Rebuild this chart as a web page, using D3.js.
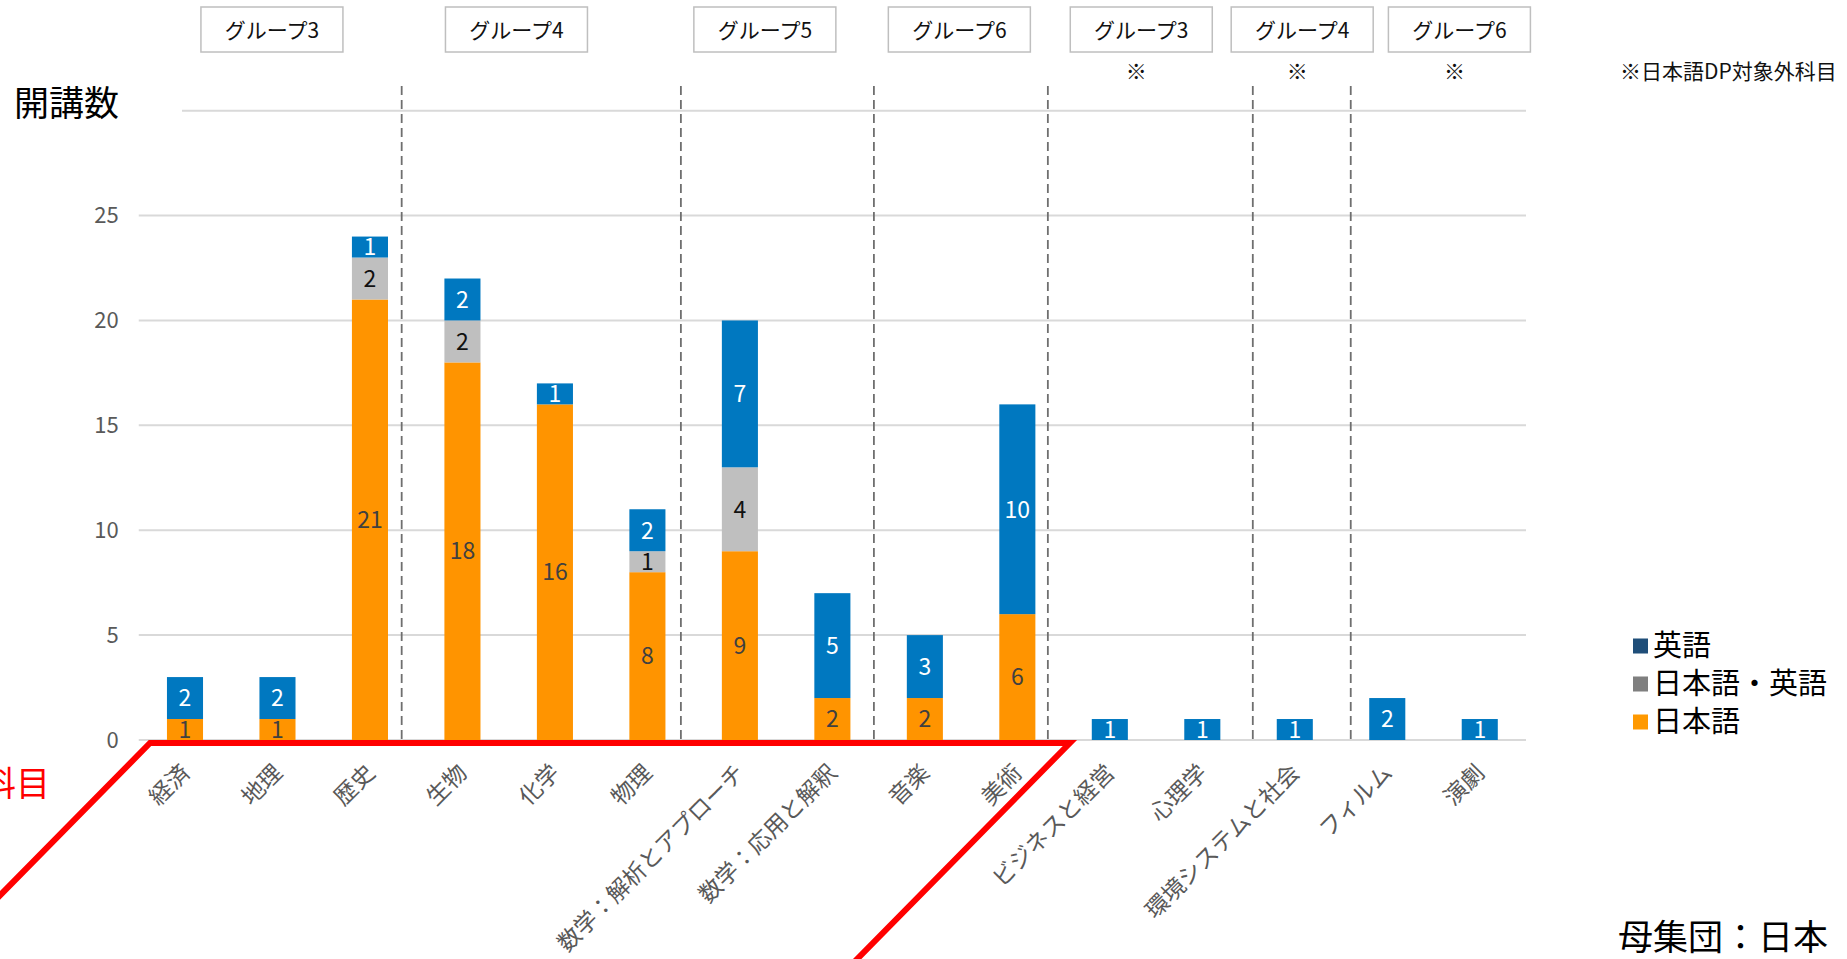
<!DOCTYPE html>
<html>
<head>
<meta charset="utf-8">
<script src="https://cdn.jsdelivr.net/npm/d3@7"></script>
<style>
  html, body { margin: 0; padding: 0; background: #fff; overflow: hidden; }
  text { font-family: "Noto Sans CJK JP", "Noto Sans", sans-serif; }
</style>
</head>
<body>
<div id="chart"></div>
<script>
// 科目ごとの開講数（言語別の積み上げ棒）

const categories = ['経済', '地理', '歴史', '生物', '化学', '物理',
  '数学：解析とアプローチ', '数学：応用と解釈', '音楽', '美術',
  'ビジネスと経営', '心理学', '環境システムと社会', 'フィルム', '演劇'];

const japanese = [1, 1, 21, 18, 16, 8, 9, 2, 2, 6, 0, 0, 0, 0, 0];
const bilingual = [0, 0, 2, 2, 0, 1, 4, 0, 0, 0, 0, 0, 0, 0, 0];
const english = [2, 2, 1, 2, 1, 2, 7, 5, 3, 10, 1, 1, 1, 2, 1];

const seriesNames = ['日本語', '日本語・英語', '英語'];
const yTicks = [0, 5, 10, 15, 20, 25];

const groupLabels = ['グループ3', 'グループ4', 'グループ5', 'グループ6', 'グループ3', 'グループ4', 'グループ6'];
const groupNotDP = [false, false, false, false, true, true, true];

// annotation placement, in category-index units (hand placed in the original slide)
const groupAt = [0.94, 3.584, 6.27, 8.373, 10.34, 12.08, 13.78];
const dividerAt = [2.343, 5.362, 7.449, 9.330, 11.546, 12.605];
const outlineAt = [-0.378, 9.568];

const barColor = { '日本語': '#ff9400', '日本語・英語': '#bfbfbf', '英語': '#0078c0' };
const legendColor = { '英語': '#1f4e79', '日本語・英語': '#7f7f7f', '日本語': '#ff9900' };
const labelColor = { '日本語': '#404040', '日本語・英語': '#111', '英語': '#fff' };

const W = 1847, H = 959;
const svg = d3.select('#chart').append('svg')
  .attr('width', W).attr('height', H)
  .attr('viewBox', `0 0 ${W} ${H}`);

const x = d3.scaleBand().domain(categories)
  .range([138.75, 1526]).paddingInner(0.61).paddingOuter(0.305);
const y = d3.scaleLinear().domain([0, 30]).range([740, 110.7]);
const bw = x.bandwidth();
const xi = d3.scaleLinear().domain([0, categories.length - 1])
  .range([x(categories[0]) + bw / 2, x(categories[categories.length - 1]) + bw / 2]);

// gridlines
svg.append('g').selectAll('line').data(yTicks.concat([30])).enter().append('line')
  .attr('x1', 138.75).attr('x2', 1526)
  .attr('y1', d => y(d)).attr('y2', d => y(d))
  .attr('stroke', '#d9d9d9').attr('stroke-width', 2);

// y axis labels
const yAxis = svg.append('g').attr('transform', `translate(${x.range()[0] - 20},0)`)
  .call(d3.axisLeft(y).tickValues(yTicks).tickSize(0).tickPadding(0));
yAxis.select('.domain').remove();
yAxis.selectAll('text')
  .attr('font-family', '"Liberation Sans", Arial, sans-serif')
  .attr('font-size', 22).attr('fill', '#595959');

// title with white backing (covers start of the top gridline)
svg.append('rect').attr('x', 0).attr('y', 80).attr('width', 182).attr('height', 45).attr('fill', '#fff');
svg.append('text').attr('x', 14).attr('y', 116)
  .attr('font-size', 35).attr('fill', '#000').text('開講数');

// stacked bars
const rows = categories.map((c, i) => ({ cat: c, '日本語': japanese[i], '日本語・英語': bilingual[i], '英語': english[i] }));
const stacked = d3.stack().keys(seriesNames)(rows);

const layer = svg.append('g').selectAll('g').data(stacked).enter().append('g')
  .attr('fill', d => barColor[d.key]);

layer.selectAll('rect').data(d => d.filter(s => s[1] > s[0])).enter().append('rect')
  .attr('x', d => x(d.data.cat))
  .attr('width', bw)
  .attr('y', d => y(d[1]))
  .attr('height', d => y(d[0]) - y(d[1]));

layer.each(function (s) {
  d3.select(this).selectAll('text').data(s.filter(v => v[1] > v[0])).enter().append('text')
    .attr('x', d => x(d.data.cat) + bw / 2)
    .attr('y', d => y((d[0] + d[1]) / 2))
    .attr('dy', '0.36em')
    .attr('text-anchor', 'middle')
    .attr('font-family', '"Liberation Sans", Arial, sans-serif')
    .attr('font-size', 23)
    .attr('fill', labelColor[s.key])
    .text(d => d[1] - d[0]);
});

// dashed group dividers
svg.append('g').selectAll('line').data(dividerAt).enter().append('line')
  .attr('x1', d => xi(d)).attr('x2', d => xi(d))
  .attr('y1', 86).attr('y2', y(0))
  .attr('stroke', '#6f6f6f').attr('stroke-width', 1.8)
  .attr('stroke-dasharray', '9,5');

// category labels
svg.append('g').selectAll('text').data(categories).enter().append('text')
  .attr('transform', d => `translate(${x(d) + bw / 2},${y(0) + 28}) rotate(-45)`)
  .attr('text-anchor', 'end')
  .attr('dy', '0.38em')
  .attr('font-size', 23)
  .attr('fill', '#595959')
  .text(d => d);

// group header boxes
const gb = svg.append('g').selectAll('g').data(groupLabels).enter().append('g')
  .attr('transform', (d, i) => `translate(${xi(groupAt[i])},0)`);
gb.append('rect')
  .attr('x', -71).attr('y', 7).attr('width', 142).attr('height', 45)
  .attr('fill', '#fff').attr('stroke', '#bfbfbf').attr('stroke-width', 1.5);
gb.append('text')
  .attr('y', 30).attr('dy', '0.36em').attr('text-anchor', 'middle')
  .attr('font-size', 21).attr('fill', '#111')
  .text(d => d);
gb.filter((d, i) => groupNotDP[i]).append('text')
  .attr('x', -5).attr('y', 71).attr('dy', '0.36em').attr('text-anchor', 'middle')
  .attr('font-size', 21).attr('fill', '#111')
  .text('※');

svg.append('text').attr('x', 1620).attr('y', 71).attr('dy', '0.36em')
  .attr('font-size', 21).attr('fill', '#111').text('※日本語DP対象外科目');

// red outline around the 日本語DP subjects
const base = y(0) + 3;
const xl = xi(outlineAt[0]), xr = xi(outlineAt[1]);
svg.append('path')
  .attr('d', `M${xl - 320},${base + 325}L${xl},${base}L${xr},${base}L${xr - 320},${base + 325}`)
  .attr('fill', 'none').attr('stroke', '#ff0000').attr('stroke-width', 6)
  .attr('stroke-linejoin', 'miter');
svg.append('text').attr('x', 50).attr('y', 796)
  .attr('text-anchor', 'end').attr('font-size', 34).attr('fill', '#ff0000')
  .text('対象科目');

// legend
const legendOrder = ['英語', '日本語・英語', '日本語'];
const lg = svg.append('g').selectAll('g').data(legendOrder).enter().append('g')
  .attr('transform', (d, i) => `translate(1633,${646 + i * 38})`);
lg.append('rect').attr('x', 0).attr('y', -7.5).attr('width', 15).attr('height', 15)
  .attr('fill', d => legendColor[d]);
lg.append('text').attr('x', 20).attr('dy', '0.36em')
  .attr('font-size', 29).attr('fill', '#000').text(d => d);

svg.append('text').attr('x', 1618).attr('y', 950)
  .attr('font-size', 35).attr('fill', '#000').text('母集団：日本');
</script>
</body>
</html>
